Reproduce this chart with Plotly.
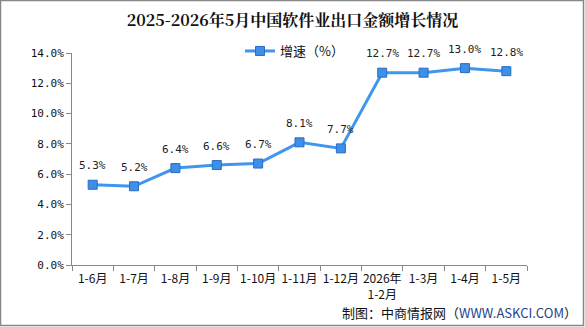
import plotly.graph_objects as go

categories = ["1-6月", "1-7月", "1-8月", "1-9月", "1-10月", "1-11月", "1-12月",
              "2026年<br>1-2月", "1-3月", "1-4月", "1-5月"]
growth = [5.3, 5.2, 6.4, 6.6, 6.7, 8.1, 7.7, 12.7, 12.7, 13.0, 12.8]
y_ticks = [0, 2, 4, 6, 8, 10, 12, 14]
y_tick_text = [f"{v:.1f}%" for v in y_ticks]

W, H = 585, 327
ml, mr, mt, mb = 72, 58, 53, 62
pw, ph = W - ml - mr, H - mt - mb

fig = go.Figure()
fig.add_trace(go.Scatter(
    x=categories, y=growth, mode="lines+markers",
    name="增速（%）",
    line=dict(color="#3f96ec", width=3),
    marker=dict(symbol="square", size=9, color="#3d8fe8",
                line=dict(color="#2a6cc0", width=1)),
    cliponaxis=False,
))

annotations = [dict(x=c, y=v, xref="x", yref="y", text=f"{v:.1f}%",
                    showarrow=False, yshift=19, xanchor="center", yanchor="middle",
                    font=dict(family="'DejaVu Sans Mono', monospace", size=11, color="#222"))
               for c, v in zip(categories, growth)]
annotations.append(dict(
    text="制图：中商情报网（<span style='color:#1f3f8f'>WWW.ASKCI.COM</span>）",
    xref="paper", yref="paper", x=1 + (mr - 6) / pw, y=-(312 - mt - ph) / ph,
    xanchor="right", yanchor="middle", showarrow=False,
    font=dict(family="'Noto Sans CJK SC', sans-serif", size=13, color="#111")))

fig.update_layout(
    width=W, height=H,
    margin=dict(l=ml, r=mr, t=mt, b=mb),
    paper_bgcolor="white", plot_bgcolor="white",
    title=dict(text="<b>2025-2026年5月中国软件业出口金额增长情况</b>",
               x=0.5, xanchor="center", y=1 - 20 / H, yanchor="middle",
               font=dict(family="'Noto Serif CJK SC', 'Noto Sans CJK SC', serif",
                         size=16, color="#111")),
    showlegend=True,
    legend=dict(orientation="h", x=(240 - ml) / pw, xanchor="left",
                y=1 + 2 / ph, yanchor="middle",
                font=dict(family="'Noto Sans CJK SC', sans-serif", size=13, color="#111"),
                bgcolor="rgba(0,0,0,0)", itemwidth=30),
    xaxis=dict(
        type="category", showline=True, linecolor="#888", linewidth=1,
        ticks="outside", tickson="boundaries", ticklen=5, tickcolor="#888",
        showgrid=False, zeroline=False, tickangle=0, ticklabelstandoff=3,
        tickfont=dict(family="'Noto Sans CJK SC', sans-serif", size=12, color="#111"),
        range=[-0.5, len(categories) - 0.5],
    ),
    yaxis=dict(
        range=[0, 14], tickvals=y_ticks, ticktext=y_tick_text,
        showline=True, linecolor="#888", linewidth=1,
        ticks="outside", ticklen=5, tickcolor="#888",
        showgrid=False, zeroline=False,
        tickfont=dict(family="'DejaVu Sans Mono', monospace", size=11, color="#111"),
    ),
    shapes=[dict(type="rect", xref="paper", yref="paper",
                 x0=(-ml + 0.5) / pw, x1=1 + (mr - 1.5) / pw,
                 y0=(-mb + 1.5) / ph, y1=1 + (mt - 0.5) / ph,
                 line=dict(color="#888", width=1.5), fillcolor="rgba(0,0,0,0)")],
    annotations=annotations,
)

fig.write_html("out.html")
